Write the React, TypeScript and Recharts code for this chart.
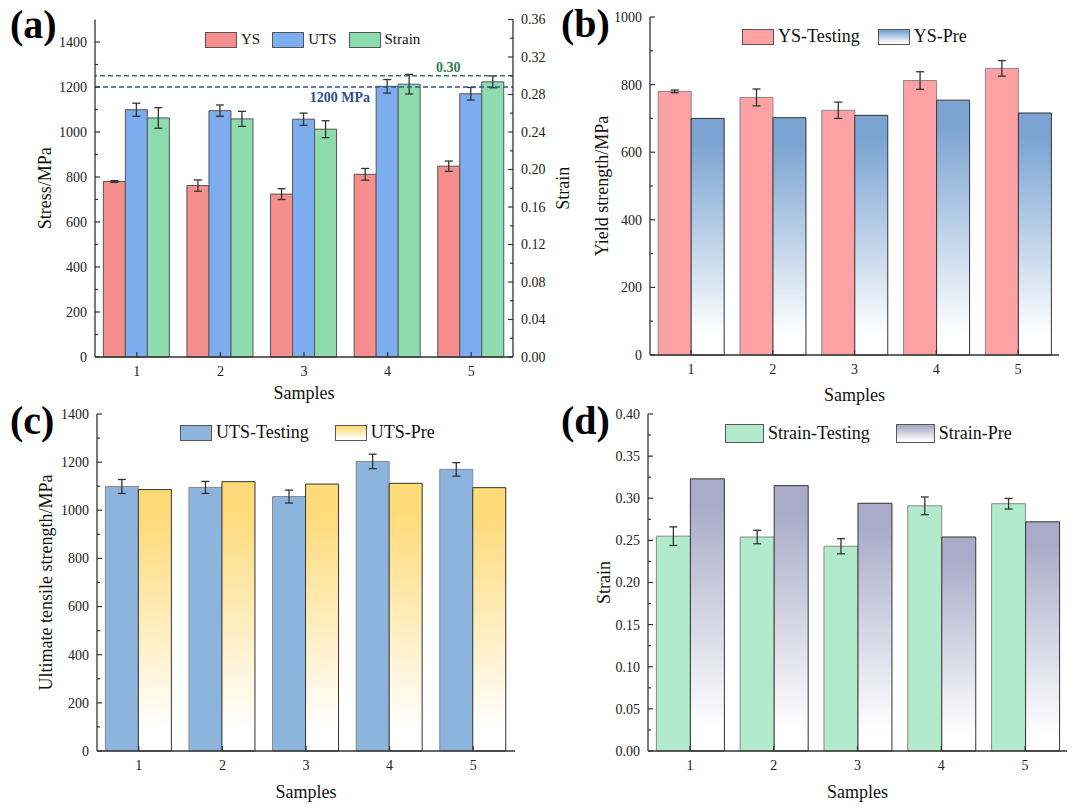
import { BarChart, Bar, XAxis, YAxis, ErrorBar, ReferenceLine, Legend } from 'recharts';

const samples = ['1', '2', '3', '4', '5'];

const ysTest = [780, 762, 724, 812, 848];
const ysErr = [4, 25, 24, 26, 23];
const ysPre = [700, 702, 709, 754, 716];

const utsTest = [1099, 1095, 1057, 1203, 1170];
const utsErr = [29, 25, 27, 30, 28];
const utsPre = [1086, 1119, 1109, 1112, 1094];

const strainTest = [0.255, 0.254, 0.243, 0.291, 0.2935];
const strainErr = [0.011, 0.008, 0.009, 0.0105, 0.0063];
const strainPre = [0.323, 0.315, 0.294, 0.254, 0.272];

const stressTicks = [0, 200, 400, 600, 800, 1000, 1200, 1400];
const stressMinor = [100, 300, 500, 700, 900, 1100, 1300];
const strainTicksA = [0, 0.04, 0.08, 0.12, 0.16, 0.2, 0.24, 0.28, 0.32, 0.36];
const strainMinorA = [0.02, 0.06, 0.1, 0.14, 0.18, 0.22, 0.26, 0.3, 0.34];
const ysTicks = [0, 200, 400, 600, 800, 1000];
const ysMinor = [100, 300, 500, 700, 900];
const strainTicksD = [0, 0.05, 0.1, 0.15, 0.2, 0.25, 0.3, 0.35, 0.4];
const strainMinorD = [0.025, 0.075, 0.125, 0.175, 0.225, 0.275, 0.325, 0.375];

const data = samples.map((s, i) => ({
  sample: s,
  ys: ysTest[i],
  ysErr: ysErr[i],
  ysPre: ysPre[i],
  uts: utsTest[i],
  utsErr: utsErr[i],
  utsPre: utsPre[i],
  strain: strainTest[i],
  strainErr: strainErr[i],
  strainPre: strainPre[i],
}));

const SERIF = '"Liberation Serif", "Times New Roman", Times, serif';
const AXIS = '#333';
const axisLine = { stroke: AXIS, strokeWidth: 1.3 };

const C = {
  ysA: '#F68E8E',
  utsA: '#7DADEF',
  strainA: '#8EDCAE',
  ysB: '#FDA1A4',
  ysPre: '#7BA4D2',
  utsC: '#8DB4DC',
  utsPre: '#FEDA78',
  strainD: '#B2EBCB',
  strainPre: '#ABABC9',
};

const near = (list: number[], v: number) => list.some((t) => Math.abs(t - v) < 1e-9);
const all = (a: number[], b: number[]) => [...a, ...b].sort((p, q) => p - q);

// inward ticks, Origin style; minor ticks get no label
function LeftTick(props: any) {
  const { x, y, payload, major, fmt, gap } = props;
  const isMajor = near(major, payload.value);
  const ax = x + gap;
  return (
    <g>
      <line x1={ax} x2={ax + (isMajor ? 5 : 3)} y1={y} y2={y} stroke={AXIS} strokeWidth={1.2} />
      {isMajor && (
        <text x={x} y={y} dy="0.35em" textAnchor="end" fontFamily={SERIF} fontSize={14} fill="#222">
          {fmt(payload.value)}
        </text>
      )}
    </g>
  );
}

function RightTick(props: any) {
  const { x, y, payload, major, fmt, gap } = props;
  const isMajor = near(major, payload.value);
  const ax = x - gap;
  return (
    <g>
      <line x1={ax} x2={ax - (isMajor ? 5 : 3)} y1={y} y2={y} stroke={AXIS} strokeWidth={1.2} />
      {isMajor && (
        <text x={x} y={y} dy="0.35em" textAnchor="start" fontFamily={SERIF} fontSize={14} fill="#222">
          {fmt(payload.value)}
        </text>
      )}
    </g>
  );
}

function BottomTick(props: any) {
  const { x, y, payload, gap } = props;
  const ay = y - gap;
  return (
    <g>
      <line x1={x} x2={x} y1={ay} y2={ay - 5} stroke={AXIS} strokeWidth={1.2} />
      <text x={x} y={y} dy="0.71em" textAnchor="middle" fontFamily={SERIF} fontSize={14} fill="#222">
        {payload.value}
      </text>
    </g>
  );
}

function SwatchLegend({ items, box, font, gap }: { items: { label: string; fill: string }[]; box: number[]; font: number; gap: number }) {
  return (
    <div style={{ display: 'flex', alignItems: 'center', fontFamily: SERIF, fontSize: font, color: '#111', whiteSpace: 'nowrap' }}>
      {items.map((it, i) => (
        <div key={it.label} style={{ display: 'flex', alignItems: 'center', marginLeft: i ? gap : 0 }}>
          <div style={{ width: box[0], height: box[1], background: it.fill, border: '1px solid #555', boxSizing: 'border-box', marginRight: 4 }} />
          <span>{it.label}</span>
        </div>
      ))}
    </div>
  );
}

const fade = (c: string) => `linear-gradient(to bottom, ${c} 0%, ${c} 10%, #ffffff 92%)`;

function Grad({ id, color }: { id: string; color: string }) {
  return (
    <linearGradient id={id} x1="0" y1="0" x2="0" y2="1">
      <stop offset="0%" stopColor={color} />
      <stop offset="10%" stopColor={color} />
      <stop offset="92%" stopColor="#ffffff" />
    </linearGradient>
  );
}

const intFmt = (v: number) => String(v);
const fix2 = (v: number) => v.toFixed(2);
const titleStyle = { fontFamily: SERIF, fontSize: 18, fill: '#111' };

function PanelA() {
  return (
    <BarChart width={580} height={405} data={data} margin={{ top: 19.5, right: 0, bottom: 0, left: 40 }} barCategoryGap="10%" barGap={0}>
      <XAxis
        dataKey="sample"
        interval={0}
        height={48}
        tickSize={0}
        tickMargin={9}
        tickLine={false}
        axisLine={axisLine}
        tick={<BottomTick gap={9} />}
        label={{ value: 'Samples', position: 'insideBottom', offset: 6, style: titleStyle }}
      />
      <XAxis xAxisId="top" orientation="top" dataKey="sample" height={0} tick={false} tickLine={false} axisLine={axisLine} />
      <YAxis
        type="number"
        domain={[0, 1500]}
        ticks={all(stressTicks, stressMinor)}
        interval={0}
        width={55}
        tickSize={0}
        tickMargin={8}
        tickLine={false}
        axisLine={axisLine}
        tick={<LeftTick major={stressTicks} fmt={intFmt} gap={8} />}
        label={{ value: 'Stress/MPa', angle: -90, position: 'insideLeft', offset: 5, style: { ...titleStyle, textAnchor: 'middle' } }}
      />
      <YAxis
        yAxisId="right"
        orientation="right"
        type="number"
        domain={[0, 0.36]}
        ticks={all(strainTicksA, strainMinorA)}
        interval={0}
        width={67}
        tickSize={0}
        tickMargin={8}
        tickLine={false}
        axisLine={axisLine}
        tick={<RightTick major={strainTicksA} fmt={fix2} gap={8} />}
        label={{ value: 'Strain', angle: -90, position: 'insideRight', offset: 17, style: { ...titleStyle, textAnchor: 'middle' } }}
      />
      <Legend
        layout="horizontal"
        verticalAlign="middle"
        align="center"
        wrapperStyle={{ left: 205, top: 31, width: 'auto' }}
        content={() => (
          <SwatchLegend
            items={[
              { label: 'YS', fill: C.ysA },
              { label: 'UTS', fill: C.utsA },
              { label: 'Strain', fill: C.strainA },
            ]}
            box={[32, 16]}
            font={15}
            gap={12}
          />
        )}
      />
      <Bar dataKey="ys" name="YS" fill={C.ysA} stroke="#555" strokeWidth={1} isAnimationActive={false}>
        <ErrorBar dataKey="ysErr" width={4} stroke="#333" strokeWidth={1.3} />
      </Bar>
      <Bar dataKey="uts" name="UTS" fill={C.utsA} stroke="#555" strokeWidth={1} isAnimationActive={false}>
        <ErrorBar dataKey="utsErr" width={4} stroke="#333" strokeWidth={1.3} />
      </Bar>
      <Bar dataKey="strain" name="Strain" yAxisId="right" fill={C.strainA} stroke="#555" strokeWidth={1} isAnimationActive={false}>
        <ErrorBar dataKey="strainErr" width={4} stroke="#333" strokeWidth={1.3} />
      </Bar>
      <ReferenceLine
        yAxisId="right"
        y={0.3}
        stroke="#2E7D4F"
        strokeDasharray="5 3"
        strokeWidth={1.5}
        label={(p: any) => (
          <text x={p.viewBox.x + p.viewBox.width * 0.845} y={p.viewBox.y - 4} textAnchor="middle" fontFamily={SERIF} fontSize={14} fontWeight="bold" fill="#2E7D4F">
            0.30
          </text>
        )}
      />
      <ReferenceLine
        y={1200}
        stroke="#2F5597"
        strokeDasharray="5 3"
        strokeWidth={1.5}
        label={(p: any) => (
          <text x={p.viewBox.x + p.viewBox.width * 0.586} y={p.viewBox.y + 15} textAnchor="middle" fontFamily={SERIF} fontSize={14} fontWeight="bold" fill="#2B4F8E">
            1200 MPa
          </text>
        )}
      />
    </BarChart>
  );
}

function PairPanel(props: {
  height: number;
  top: number;
  left: number;
  right: number;
  xHeight: number;
  yWidth: number;
  domain: number[];
  major: number[];
  minor: number[];
  fmt: (v: number) => string;
  yTitle: string;
  yTitleOffset: number;
  samplesOffset: number;
  testKey: string;
  errKey: string;
  preKey: string;
  testName: string;
  preName: string;
  testColor: string;
  preColor: string;
  gradId: string;
  legendLeft: number;
  legendTop: number;
  legendBox: number[];
  legendGap: number;
}) {
  const p = props;
  return (
    <BarChart width={540} height={p.height} data={data} margin={{ top: p.top, right: p.right, bottom: 0, left: p.left }} barCategoryGap="10%" barGap={0}>
      <defs>
        <Grad id={p.gradId} color={p.preColor} />
      </defs>
      <XAxis
        dataKey="sample"
        interval={0}
        height={p.xHeight}
        tickSize={0}
        tickMargin={9}
        tickLine={false}
        axisLine={axisLine}
        tick={<BottomTick gap={9} />}
        label={{ value: 'Samples', position: 'insideBottom', offset: p.samplesOffset, style: titleStyle }}
      />
      <XAxis xAxisId="top" orientation="top" dataKey="sample" height={0} tick={false} tickLine={false} axisLine={axisLine} />
      <YAxis
        type="number"
        domain={p.domain}
        ticks={all(p.major, p.minor)}
        interval={0}
        width={p.yWidth}
        tickSize={0}
        tickMargin={8}
        tickLine={false}
        axisLine={axisLine}
        tick={<LeftTick major={p.major} fmt={p.fmt} gap={8} />}
        label={{ value: p.yTitle, angle: -90, position: 'insideLeft', offset: p.yTitleOffset, style: { ...titleStyle, textAnchor: 'middle' } }}
      />
      <YAxis yAxisId="frame" orientation="right" type="number" domain={[0, 1]} width={0} tick={false} tickLine={false} axisLine={axisLine} />
      <Legend
        layout="horizontal"
        verticalAlign="middle"
        align="center"
        wrapperStyle={{ left: p.legendLeft, top: p.legendTop, width: 'auto' }}
        content={() => (
          <SwatchLegend
            items={[
              { label: p.testName, fill: p.testColor },
              { label: p.preName, fill: fade(p.preColor) },
            ]}
            box={p.legendBox}
            font={18}
            gap={p.legendGap}
          />
        )}
      />
      <Bar dataKey={p.testKey} name={p.testName} fill={p.testColor} stroke="#888" strokeWidth={1} isAnimationActive={false}>
        <ErrorBar dataKey={p.errKey} width={4} stroke="#333" strokeWidth={1.3} />
      </Bar>
      <Bar dataKey={p.preKey} name={p.preName} fill={`url(#${p.gradId})`} stroke="#333" strokeWidth={1} isAnimationActive={false} />
    </BarChart>
  );
}

const labelStyle = { fontFamily: SERIF, fontSize: 40, fontWeight: 'bold' as const, fill: '#000' };

export default function App() {
  return (
    <div style={{ position: 'absolute', left: 0, top: 0, width: 1080, height: 808, background: '#fff', overflow: 'hidden' }}>
      <div style={{ position: 'absolute', left: 0, top: 0 }}>
        <PanelA />
      </div>
      <div style={{ position: 'absolute', left: 540, top: 0 }}>
        <PairPanel
          height={405}
          top={17}
          left={30}
          right={21}
          xHeight={50}
          yWidth={80}
          domain={[0, 1000]}
          major={ysTicks}
          minor={ysMinor}
          fmt={intFmt}
          yTitle="Yield strength/MPa"
          yTitleOffset={32}
          samplesOffset={4}
          testKey="ys"
          errKey="ysErr"
          preKey="ysPre"
          testName="YS-Testing"
          preName="YS-Pre"
          testColor={C.ysB}
          preColor={C.ysPre}
          gradId="gradYS"
          legendLeft={202}
          legendTop={26}
          legendBox={[32, 16]}
          legendGap={18}
        />
      </div>
      <div style={{ position: 'absolute', left: 0, top: 400 }}>
        <PairPanel
          height={408}
          top={14}
          left={40}
          right={25}
          xHeight={57}
          yWidth={57}
          domain={[0, 1400]}
          major={stressTicks}
          minor={stressMinor}
          fmt={intFmt}
          yTitle="Ultimate tensile strength/MPa"
          yTitleOffset={6}
          samplesOffset={10}
          testKey="uts"
          errKey="utsErr"
          preKey="utsPre"
          testName="UTS-Testing"
          preName="UTS-Pre"
          testColor={C.utsC}
          preColor={C.utsPre}
          gradId="gradUTS"
          legendLeft={180}
          legendTop={22}
          legendBox={[32, 16]}
          legendGap={26}
        />
      </div>
      <div style={{ position: 'absolute', left: 540, top: 400 }}>
        <PairPanel
          height={408}
          top={14}
          left={30}
          right={13}
          xHeight={57}
          yWidth={78}
          domain={[0, 0.4]}
          major={strainTicksD}
          minor={strainMinorD}
          fmt={fix2}
          yTitle="Strain"
          yTitleOffset={34}
          samplesOffset={10}
          testKey="strain"
          errKey="strainErr"
          preKey="strainPre"
          testName="Strain-Testing"
          preName="Strain-Pre"
          testColor={C.strainD}
          preColor={C.strainPre}
          gradId="gradStrain"
          legendLeft={185}
          legendTop={23}
          legendBox={[39, 19]}
          legendGap={26}
        />
      </div>
      <svg width={1080} height={808} style={{ position: 'absolute', left: 0, top: 0, pointerEvents: 'none' }}>
        <text x={10} y={38} {...labelStyle}>(a)</text>
        <text x={561} y={37} {...labelStyle}>(b)</text>
        <text x={10} y={434} {...labelStyle}>(c)</text>
        <text x={561} y={434} {...labelStyle}>(d)</text>
      </svg>
    </div>
  );
}
